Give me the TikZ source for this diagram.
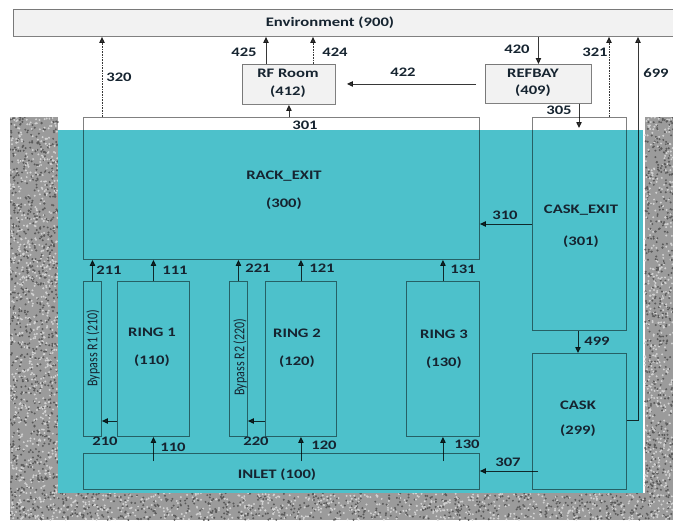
\documentclass[tikz,border=0pt]{standalone}
\usepackage{fontspec}
\setmainfont{Carlito}[FakeStretch=1.28]
\newfontfamily\byfont{Carlito}
\usetikzlibrary{arrows.meta}
\definecolor{poolc}{RGB}{77,193,203}
\definecolor{envc}{RGB}{242,242,242}
\definecolor{linec}{RGB}{128,128,128}
\definecolor{arrc}{RGB}{55,55,55}
\definecolor{txtc}{RGB}{22,36,48}
\definecolor{gravc}{RGB}{155,155,155}
\definecolor{gravd}{RGB}{90,90,90}
\definecolor{gravl}{RGB}{210,210,210}
\tikzset{
  bx/.style={draw=linec, line width=0.9pt, inner sep=0pt, anchor=north west},
  gbx/.style={bx, fill=envc},
  arr/.style={draw=arrc, line width=0.8pt, -{Triangle[length=6pt,width=5.5pt]}},
  dotarr/.style={arr, dash pattern=on 0.8pt off 0.8pt},
  txt/.style={text=txtc, font=\bfseries\fontsize{13}{15}\selectfont, inner sep=0pt, text height=8.4pt, text depth=0pt},
  byp/.style={text=txtc, font=\byfont\fontsize{12}{13}\selectfont, inner sep=0pt, rotate=90},
}
\begin{document}
\begin{tikzpicture}[x=1pt,y=-1pt]
\useasboundingbox (0,0) rectangle (673,523);
% gravel
\begin{scope}
\clip (10,117) rectangle (673,520);
\fill[gravc] (10,117) rectangle (58,520);
\fill[gravc] (645,117) rectangle (673,520);
\fill[gravc] (58,493) rectangle (645,520);
\pgfmathsetseed{42}
\foreach \i in {1,...,800}{
  \fill[gravd] ({10+48*rnd},{117+403*rnd}) circle[radius=1.1];
  \fill[gravl] ({10+48*rnd},{117+403*rnd}) circle[radius=1.1];
}
\foreach \i in {1,...,470}{
  \fill[gravd] ({645+28*rnd},{117+403*rnd}) circle[radius=1.1];
  \fill[gravl] ({645+28*rnd},{117+403*rnd}) circle[radius=1.1];
}
\foreach \i in {1,...,620}{
  \fill[gravd] ({58+587*rnd},{493+27*rnd}) circle[radius=1.1];
  \fill[gravl] ({58+587*rnd},{493+27*rnd}) circle[radius=1.1];
}
\end{scope}
% pool
\fill[poolc] (58,130) rectangle (643,493);

\begin{scope}[blend mode=multiply]
\node[gbx, minimum width=670pt, minimum height=27pt] (env) at (13,9) {};
\node[gbx, minimum width=93pt, minimum height=40pt] (rf) at (242,64) {};
\node[gbx, minimum width=106pt, minimum height=39pt] (refbay) at (485,64) {};
\node[bx, minimum width=396pt, minimum height=142pt] (rack) at (83,117) {};
\node[bx, minimum width=94pt, minimum height=213pt] (caskexit) at (532,117) {};
\node[bx, minimum width=94pt, minimum height=136pt] (cask) at (532,353) {};
\node[bx, minimum width=18pt, minimum height=155pt] (byp1) at (83,281) {};
\node[bx, minimum width=72pt, minimum height=155pt] (ring1) at (117,281) {};
\node[bx, minimum width=18pt, minimum height=155pt] (byp2) at (229,281) {};
\node[bx, minimum width=71pt, minimum height=155pt] (ring2) at (265,281) {};
\node[bx, minimum width=73pt, minimum height=155pt] (ring3) at (406,281) {};
\node[bx, minimum width=396pt, minimum height=36pt] (inlet) at (83,453) {};

\coordinate (c320) at (102,0);
\coordinate (c425) at (266,0);
\coordinate (c424) at (313,0);
\coordinate (c321) at (609,0);
\coordinate (k699) at (638,420);
\coordinate (c305) at (579,128);
\coordinate (y421) at (0,421);
\coordinate (y224) at (0,224);
\coordinate (yin) at (0,461);
\coordinate (c499) at (578,0);
\coordinate (k307) at (0,471);

\draw[dotarr] (rack.north -| c320) -- (env.south -| c320);
\draw[arr] (rf.north -| c425) -- (env.south -| c425);
\draw[dotarr] (rf.north -| c424) -- (env.south -| c424);
\draw[arr] (env.south -| refbay.north) -- (refbay.north);
\draw[dotarr] (caskexit.north -| c321) -- (env.south -| c321);
\draw[arr] (cask.east |- k699) -- (k699) -- (env.south -| k699);
\draw[arr, shorten <=9pt, shorten >=11pt] (refbay.west) -- (rf.east |- refbay.west);
\draw[arr] (rack.north -| rf.south) -- (rf.south);
\draw[arr] (refbay.south -| c305) -- (c305);

\draw[arr] (byp1.north) -- (byp1.north |- rack.south);
\draw[arr] (ring1.north) -- (ring1.north |- rack.south);
\draw[arr] (byp2.north) -- (byp2.north |- rack.south);
\draw[arr] (ring2.north) -- (ring2.north |- rack.south);
\draw[arr] (ring3.north) -- (ring3.north |- rack.south);

\draw[arr] (ring1.south |- yin) -- (ring1.south);
\draw[arr] (ring2.south |- yin) -- (ring2.south);
\draw[arr] (ring3.south |- yin) -- (ring3.south);
\draw[arr] (ring1.west |- y421) -- (byp1.east |- y421);
\draw[arr] (ring2.west |- y421) -- (byp2.east |- y421);
\draw[arr] (caskexit.west |- y224) -- (rack.east |- y224);
\draw[arr] (caskexit.south -| c499) -- (cask.north -| c499);
\draw[arr, shorten <=-6pt] (cask.west |- k307) -- (inlet.east |- k307);
\end{scope}

% box texts
\node[txt] (tenv) at (330,22) {Environment (900)};
\node[txt] (trf1) at (288,73) {RF Room};
\node[txt] (trf2) at (288,91) {(412)};
\node[txt] (trb1) at (533,73) {REFBAY};
\node[txt] (trb2) at (533,90) {(409)};
\node[txt] (track1) at (284,175) {RACK\_EXIT};
\node[txt] (track2) at (284,203) {(300)};
\node[txt] (tce1) at (581,209) {CASK\_EXIT};
\node[txt] (tce2) at (581,241) {(301)};
\node[txt] (tc1) at (578,405) {CASK};
\node[txt] (tc2) at (578,430) {(299)};
\node[txt] (tr11) at (152,332) {RING 1};
\node[txt] (tr12) at (152,360) {(110)};
\node[txt] (tr21) at (297,333) {RING 2};
\node[txt] (tr22) at (297,361) {(120)};
\node[txt] (tr31) at (444,334) {RING 3};
\node[txt] (tr32) at (444,362) {(130)};
\node[txt] (tin) at (277,474) {INLET (100)};
\node[byp] (tb1) at (93,348) {\scalebox{1}[1.25]{Bypass R1 (210)}};
\node[byp] (tb2) at (240,357) {\scalebox{1}[1.25]{Bypass R2 (220)}};

% connector labels
\node[txt] (l320) at (119,77) {320};
\node[txt] (l425) at (244,52) {425};
\node[txt] (l424) at (335,52) {424};
\node[txt] (l420) at (517,49) {420};
\node[txt] (l321) at (595,52) {321};
\node[txt] (l699) at (656,73) {699};
\node[txt] (l422) at (403,72) {422};
\node[txt] (l301) at (305,125) {301};
\node[txt] (l305) at (559,110) {305};
\node[txt] (l211) at (109,270) {211};
\node[txt] (l111) at (175,270) {111};
\node[txt] (l221) at (258,268) {221};
\node[txt] (l121) at (322,268) {121};
\node[txt] (l131) at (463,269) {131};
\node[txt] (l310) at (505,215) {310};
\node[txt] (l499) at (597,341) {499};
\node[txt] (l210) at (105,441) {210};
\node[txt] (l110) at (173,447) {110};
\node[txt] (l220) at (256,441) {220};
\node[txt] (l120) at (324,445) {120};
\node[txt] (l130) at (467,444) {130};
\node[txt] (l307) at (508,462) {307};
\end{tikzpicture}
\end{document}
